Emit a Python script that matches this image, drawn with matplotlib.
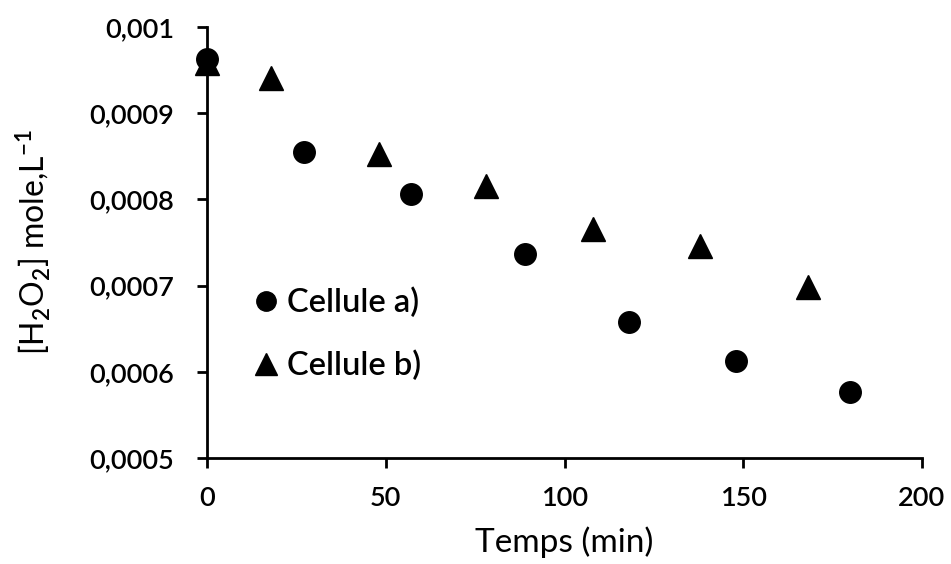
import matplotlib
matplotlib.use('Agg')
import matplotlib.pyplot as plt

plt.rcParams['font.family'] = ['Lato', 'DejaVu Sans']
plt.rcParams['font.weight'] = 'semibold'
plt.rcParams['mathtext.fontset'] = 'custom'
plt.rcParams['mathtext.rm'] = 'Lato:semibold'

# data
temps_a = [0, 27, 57, 89, 118, 148, 180]
h2o2_a = [0.000963, 0.000855, 0.000806, 0.000737, 0.000658, 0.000613, 0.000576]
temps_b = [0, 18, 48, 78, 108, 138, 168]
h2o2_b = [0.000958, 0.000941, 0.000853, 0.000816, 0.000766, 0.000746, 0.000698]
yticks = [0.0005, 0.0006, 0.0007, 0.0008, 0.0009, 0.001]
ytick_labels = ['0,0005', '0,0006', '0,0007', '0,0008', '0,0009', '0,001']
xticks = [0, 50, 100, 150, 200]

fig = plt.figure(figsize=(9.51, 5.64), dpi=100)
ax = fig.add_axes([0.2177, 0.188, 0.7518, 0.764])

ax.plot(temps_a, h2o2_a, 'o', color='black', ms=15.5, label='Cellule a)', clip_on=False, zorder=3)
ax.plot(temps_b, h2o2_b, '^', color='black', ms=17, label='Cellule b)', clip_on=False, zorder=3)

ax.set_xlim(0, 200)
ax.set_ylim(0.0005, 0.001)
ax.set_xticks(xticks)
ax.set_yticks(yticks)
ax.set_yticklabels(ytick_labels)
ax.tick_params(labelsize=19.5, width=2, length=7.5, direction='out')
ax.tick_params(axis='y', pad=16)
ax.tick_params(axis='x', pad=13)
for s in ['top', 'right']:
    ax.spines[s].set_visible(False)
for s in ['left', 'bottom']:
    ax.spines[s].set_linewidth(2)

ax.set_xlabel('Temps (min)', fontsize=24, labelpad=11)
ax.set_ylabel(r'[H$_2$O$_2$] mole,L$^{-1}$', fontsize=23, labelpad=26)

ax.legend(loc='center left', bbox_to_anchor=(0.059, 0.287), frameon=False,
          fontsize=23.5, handlelength=1.0, handletextpad=0.15, labelspacing=1.0,
          markerscale=0.9, borderaxespad=0, borderpad=0)

fig.savefig('out.png', dpi=100)
